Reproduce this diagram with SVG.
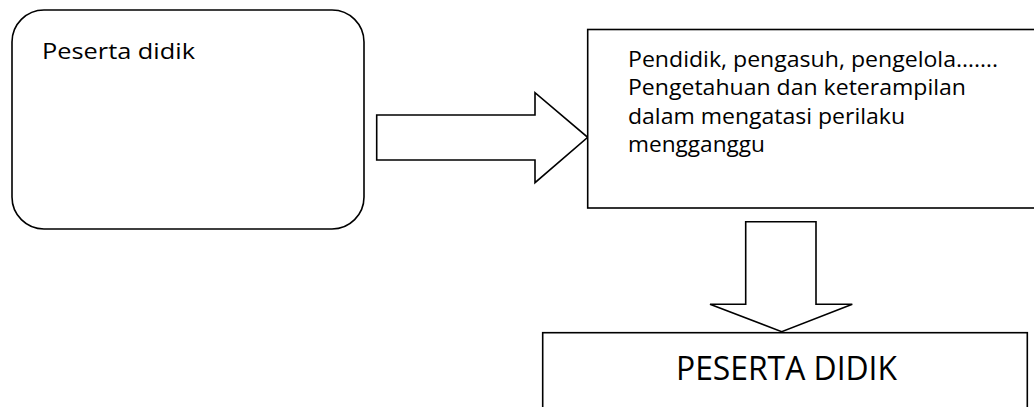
<svg xmlns="http://www.w3.org/2000/svg" width="1034" height="407" viewBox="0 0 1034 407">
  <style>
    .box { fill: #ffffff; stroke: #000000; stroke-width: 1.6; }
    .arrow { fill: #ffffff; stroke: #000000; stroke-width: 1.6; stroke-linejoin: miter; }
    .t { font-family: "Open Sans", "Noto Sans", "Liberation Sans", sans-serif; fill: #000000; }
    .s { font-size: 22px; }
    .l { font-size: 32px; }
  </style>
  <rect width="1034" height="407" fill="#ffffff"/>
  <g id="connectors">
    <polygon class="arrow" points="376.7,115 535,115 535,92.7 587.7,137.3 535,182.7 535,160 376.7,160"/>
    <polygon class="arrow" points="745.7,221.7 816,221.7 816,304.3 852.3,304.3 781.7,331.7 710,304.3 745.7,304.3"/>
  </g>
  <g id="node-peserta-didik">
    <rect class="box" x="12" y="10" width="352" height="219" rx="32" ry="32"/>
    <text class="t s" x="42" y="59" textLength="153" lengthAdjust="spacingAndGlyphs">Peserta didik</text>
  </g>
  <g id="node-pendidik">
    <rect class="box" x="587.7" y="29.5" width="460" height="178.5"/>
    <text class="t s" x="628" y="66.5" textLength="370" lengthAdjust="spacingAndGlyphs">Pendidik, pengasuh, pengelola…….</text>
    <text class="t s" x="628" y="95" textLength="338" lengthAdjust="spacingAndGlyphs">Pengetahuan dan keterampilan</text>
    <text class="t s" x="628" y="123.5" textLength="277" lengthAdjust="spacingAndGlyphs">dalam mengatasi perilaku</text>
    <text class="t s" x="628" y="152" textLength="137" lengthAdjust="spacingAndGlyphs">mengganggu</text>
  </g>
  <g id="node-peserta-didik-bottom">
    <rect class="box" x="542.7" y="332.7" width="484.6" height="90"/>
    <text class="t l" x="676" y="379.5" textLength="221" lengthAdjust="spacingAndGlyphs">PESERTA DIDIK</text>
  </g>
</svg>
